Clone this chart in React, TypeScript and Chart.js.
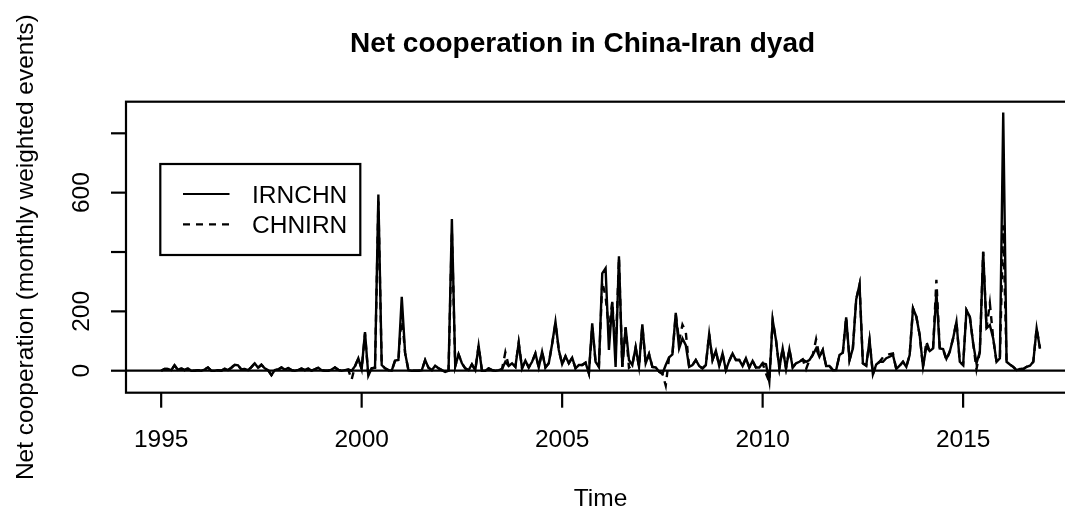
import React, { useEffect, useRef } from "react";
import { Chart, registerables } from "chart.js";

Chart.register(...registerables);

// Monthly series, Jan 1995 .. Dec 2016 (12 values per row = one year)
const startYear = 1995;
const monthsPerYear = 12;

const irnchn: number[] = [
  0, 6, 6, 2, 18, 3, 8, 2, 8, 0, 0, 2, // 1995
  0, 4, 11, 0, 0, 2, 0, 7, 2, 10, 20, 18, // 1996
  4, 6, 2, 12, 25, 10, 20, 8, 2, -15, 2, 4, // 1997
  11, 4, 9, 2, 0, 3, 7, 2, 8, 0, 5, 10, // 1998
  2, 0, 0, 4, 11, 3, 0, 2, 4, 0, 15, 42, // 1999
  5, 130, -17, 8, 10, 594, 19, 8, 2, 0, 34, 36, // 2000
  249, 60, 2, 0, 0, 0, 2, 36, 10, 2, 17, 8, // 2001
  2, -4, 0, 511, 15, 55, 25, 8, 2, 21, 2, 84, // 2002
  0, 0, 8, 2, 0, 2, 5, 30, 16, 25, 13, 94, // 2003
  8, 34, 11, 30, 58, 11, 64, 11, 25, 90, 165, 70, // 2004
  22, 49, 25, 44, 8, 19, 19, 27, -9, 160, 30, 13, // 2005
  328, 345, 70, 232, 13, 386, 13, 146, 36, 19, 79, 13, // 2006
  156, 25, 56, 13, 11, -3, -11, 19, 45, 55, 195, 75, // 2007
  109, 86, 13, 19, 36, 16, 8, 19, 124, 36, 67, 16, // 2008
  58, 2, 33, 58, 36, 36, 16, 42, 11, 33, 11, 11, // 2009
  25, 22, -37, 171, 103, 8, 75, 8, 72, 11, 25, 30, // 2010
  38, 30, 36, 53, 75, 47, 70, 16, 16, 2, 2, 53, // 2011
  61, 180, 36, 75, 240, 290, 25, 17, 103, -12, 21, 30, // 2012
  30, 42, 47, 53, 6, 17, 30, 13, 53, 210, 182, 120, // 2013
  13, 81, 66, 75, 266, 75, 73, 40, 64, 109, 165, 30, // 2014
  19, 204, 182, 92, 25, 64, 401, 143, 154, 109, 30, 42, // 2015
  870, 30, 21, 13, 2, 6, 6, 13, 17, 30, 143, 75, // 2016
];

const chnirn: number[] = [
  0, 6, 6, 2, 18, 3, 8, 2, 8, 0, 0, 2, // 1995
  0, 4, 11, 0, 0, 2, 0, 7, 2, 10, 20, 18, // 1996
  4, 6, 2, 12, 25, 10, 20, 8, 2, -15, 2, 4, // 1997
  11, 4, 9, 2, 0, 3, 7, 2, 8, 0, 5, 10, // 1998
  2, 0, 0, 4, 11, 3, 0, 2, 4, -30, 15, 42, // 1999
  5, 125, -17, 8, 10, 570, 19, 8, 2, 0, 34, 36, // 2000
  190, 60, 2, 0, 0, 0, 2, 36, 10, 2, 17, 8, // 2001
  2, -4, 0, 470, 15, 55, 25, 8, 2, 21, 2, 84, // 2002
  0, 0, 8, 2, 0, 2, 5, 62, 16, 25, 13, 94, // 2003
  8, 34, 11, 30, 58, 11, 64, 11, 25, 90, 160, 70, // 2004
  22, 49, 25, 44, 8, 19, 19, 27, -9, 150, 30, 13, // 2005
  300, 250, 137, 232, 60, 380, 13, 146, 10, 19, 79, 13, // 2006
  150, 25, 56, 13, 11, -3, -10, -50, 45, 55, 190, 100, // 2007
  155, 131, 13, 19, 36, 16, 8, 19, 124, 36, 67, 16, // 2008
  58, 2, 33, 58, 36, 36, 16, 42, 11, 33, 11, 11, // 2009
  25, -10, -37, 171, 103, 8, 75, 8, 72, 11, 25, 30, // 2010
  38, 5, 36, 53, 106, 47, 70, 16, 16, 2, 2, 53, // 2011
  61, 180, 36, 75, 240, 290, 25, 17, 103, -12, 21, 30, // 2012
  45, 52, 56, 58, 6, 17, 30, 13, 53, 210, 182, 120, // 2013
  13, 98, 66, 75, 306, 75, 73, 35, 64, 109, 165, 30, // 2014
  19, 204, 182, 92, 5, 64, 401, 143, 227, 109, 30, 42, // 2015
  490, 30, 21, 13, 2, 6, 6, 13, 17, 30, 143, 75, // 2016
];

const xTicks: number[] = [1995, 2000, 2005, 2010, 2015];
const yTicks: number[] = [0, 200, 400, 600, 800];
const yTickLabels: string[] = ["0", "200", "", "600", ""];

const titleText = "Net cooperation in China-Iran dyad";
const xTitle = "Time";
const yTitle = "Net cooperation (monthly weighted events)";
const seriesNames: string[] = ["IRNCHN", "CHNIRN"];

const FONT = '"Liberation Sans", Arial, Helvetica, sans-serif';
const BASE = 24.5;

const toPoints = (vals: number[]) =>
  vals.map((v, i) => ({ x: startYear + i / monthsPerYear, y: v }));

const rStyle = {
  id: "rStyle",
  afterDatasetsDraw(chart: any) {
    const { ctx, chartArea: a, scales } = chart;
    const xs = scales.x;
    const ys = scales.y;
    ctx.save();
    ctx.strokeStyle = "#000";
    ctx.fillStyle = "#000";
    ctx.lineWidth = 2.2;
    ctx.setLineDash([]);

    // horizontal reference line at 0
    ctx.save();
    ctx.beginPath();
    ctx.rect(a.left, a.top, a.right - a.left, a.bottom - a.top);
    ctx.clip();
    const y0 = ys.getPixelForValue(0);
    ctx.beginPath();
    ctx.moveTo(a.left, y0);
    ctx.lineTo(a.right, y0);
    ctx.stroke();
    ctx.restore();

    // box
    ctx.strokeRect(a.left, a.top, a.right - a.left, a.bottom - a.top);

    // x axis ticks + labels
    ctx.font = `${BASE}px ${FONT}`;
    ctx.textAlign = "center";
    ctx.textBaseline = "alphabetic";
    xTicks.forEach((t) => {
      const px = xs.getPixelForValue(t);
      ctx.beginPath();
      ctx.moveTo(px, a.bottom);
      ctx.lineTo(px, a.bottom + 15);
      ctx.stroke();
      ctx.fillText(String(t), px, a.bottom + 54.5);
    });

    // y axis ticks + rotated labels
    yTicks.forEach((t, k) => {
      const py = ys.getPixelForValue(t);
      ctx.beginPath();
      ctx.moveTo(a.left - 15, py);
      ctx.lineTo(a.left, py);
      ctx.stroke();
      const lab = yTickLabels[k];
      if (lab) {
        ctx.save();
        ctx.translate(a.left - 36.7, py);
        ctx.rotate(-Math.PI / 2);
        ctx.fillText(lab, 0, 0);
        ctx.restore();
      }
    });

    // titles
    ctx.font = `bold 28px ${FONT}`;
    ctx.fillText(titleText, 582.5, 51.7);
    ctx.font = `${BASE}px ${FONT}`;
    ctx.fillText(xTitle, (a.left + a.right) / 2, 506);
    ctx.save();
    ctx.translate(33, (a.top + a.bottom) / 2);
    ctx.rotate(-Math.PI / 2);
    ctx.fillText(yTitle, 0, 0);
    ctx.restore();

    // legend
    ctx.strokeRect(160.3, 164, 200, 91);
    ctx.beginPath();
    ctx.moveTo(183, 194);
    ctx.lineTo(229.5, 194);
    ctx.stroke();
    ctx.setLineDash([7, 6]);
    ctx.beginPath();
    ctx.moveTo(183, 224.3);
    ctx.lineTo(229.5, 224.3);
    ctx.stroke();
    ctx.setLineDash([]);
    ctx.textAlign = "left";
    ctx.fillText(seriesNames[0], 252, 203.3);
    ctx.fillText(seriesNames[1], 252, 233.3);

    ctx.restore();
  },
};

export default function App() {
  const ref = useRef<HTMLCanvasElement | null>(null);
  useEffect(() => {
    if (!ref.current) return;
    const chart = new Chart(ref.current, {
      type: "line",
      data: {
        datasets: [
          {
            label: seriesNames[1],
            data: toPoints(chnirn),
            borderColor: "#000",
            borderWidth: 2.4,
            borderDash: [7, 6],
            pointRadius: 0,
            tension: 0,
            fill: false,
            order: 0,
          },
          {
            label: seriesNames[0],
            data: toPoints(irnchn),
            borderColor: "#000",
            borderWidth: 2.4,
            pointRadius: 0,
            tension: 0,
            fill: false,
            order: 1,
          },
        ],
      },
      options: {
        animation: false,
        responsive: false,
        maintainAspectRatio: false,
        devicePixelRatio: 1,
        layout: { padding: { left: 126, top: 101.7, right: 35, bottom: 119.3 } },
        plugins: {
          legend: { display: false },
          title: { display: false },
          tooltip: { enabled: false },
        },
        events: [],
        scales: {
          x: { type: "linear", display: false, min: 1994.123, max: 2017.79 },
          y: { type: "linear", display: false, min: -74.1, max: 906.5 },
        },
      },
      plugins: [rStyle],
    });
    return () => chart.destroy();
  }, []);

  return (
    <div
      style={{
        position: "absolute",
        left: 0,
        top: 0,
        width: 1065,
        height: 512,
        overflow: "hidden",
        background: "#fff",
      }}
    >
      <canvas ref={ref} width={1110} height={512} style={{ display: "block" }} />
    </div>
  );
}
